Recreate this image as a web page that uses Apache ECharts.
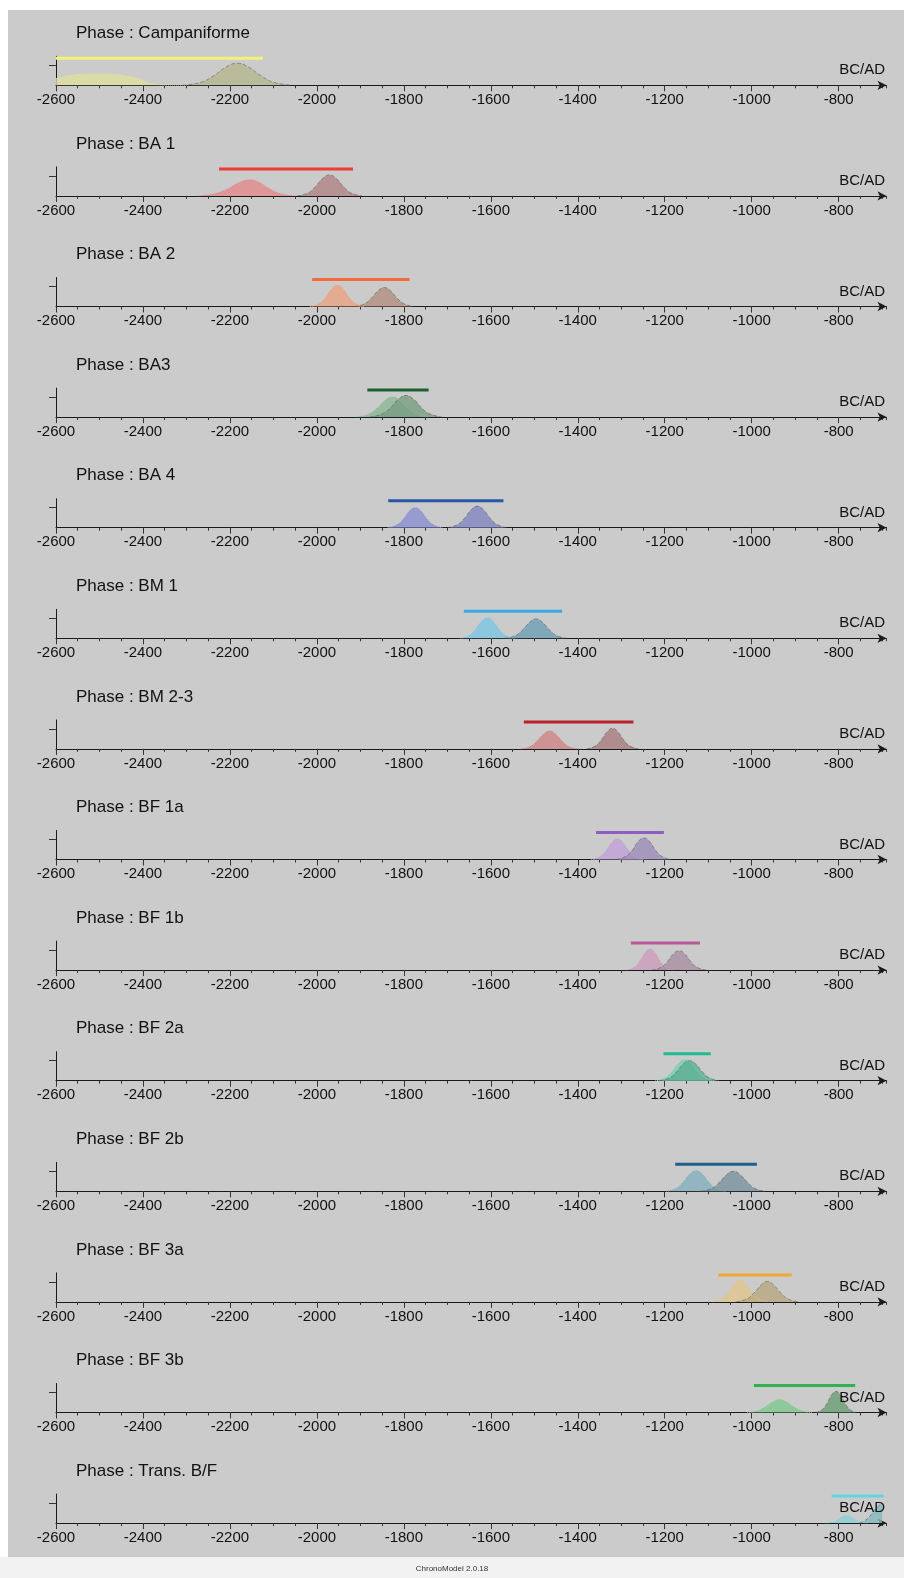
<!DOCTYPE html>
<html>
<head>
<meta charset="utf-8">
<title>ChronoModel - phases</title>
<script src="https://cdn.jsdelivr.net/npm/echarts@6/dist/echarts.min.js"></script>
<style>
  html, body { margin: 0; padding: 0; background: #ffffff; }
  #chart { width: 904px; height: 1578px; }
</style>
</head>
<body>
<div id="chart"></div>
<script>
  // phases, top to bottom
  var phaseNames = ['Campaniforme', 'BA 1', 'BA 2', 'BA3', 'BA 4', 'BM 1', 'BM 2-3',
    'BF 1a', 'BF 1b', 'BF 2a', 'BF 2b', 'BF 3a', 'BF 3b', 'Trans. B/F'];

  // phase time range (the coloured bar)
  var phaseStart = [-2600, -2225, -2011, -1884, -1836, -1662, -1524, -1358, -1278, -1203, -1176, -1077, -995, -816];
  var phaseEnd = [-2124, -1917, -1787, -1743, -1571, -1436, -1272, -1202, -1119, -1094, -988, -908, -762, -697];

  // density of the phase begin (1 = y tick)
  var beginCurves = [
    [[-2600, 0.33], [-2575, 0.47], [-2530, 0.56], [-2490, 0.57], [-2465, 0.55], [-2420, 0.4], [-2400, 0.25], [-2385, 0.1], [-2350, 0.02], [-2300, 0]],
    [[-2274, 0], [-2234, 0.11], [-2206, 0.34], [-2178, 0.67], [-2154, 0.8], [-2133, 0.67], [-2108, 0.34], [-2084, 0.11], [-2049, 0]],
    [[-2016, 0], [-1995, 0.14], [-1980, 0.45], [-1966, 0.88], [-1953, 1.05], [-1940, 0.88], [-1926, 0.45], [-1911, 0.14], [-1890, 0]],
    [[-1910, 0], [-1882, 0.135], [-1862, 0.43], [-1843, 0.835], [-1826, 1.0], [-1809, 0.835], [-1790, 0.43], [-1770, 0.135], [-1742, 0]],
    [[-1837, 0], [-1816, 0.135], [-1801, 0.43], [-1787, 0.835], [-1774, 1.0], [-1761, 0.835], [-1747, 0.43], [-1732, 0.135], [-1711, 0]],
    [[-1671, 0], [-1650, 0.14], [-1635, 0.44], [-1621, 0.85], [-1608, 1.02], [-1595, 0.85], [-1581, 0.44], [-1566, 0.14], [-1545, 0]],
    [[-1531, 0], [-1509, 0.12], [-1494, 0.39], [-1478, 0.75], [-1465, 0.9], [-1452, 0.75], [-1436, 0.39], [-1421, 0.12], [-1399, 0]],
    [[-1369, 0], [-1349, 0.14], [-1335, 0.44], [-1321, 0.86], [-1309, 1.03], [-1297, 0.86], [-1283, 0.44], [-1269, 0.14], [-1249, 0]],
    [[-1288, 0], [-1270, 0.14], [-1257, 0.45], [-1245, 0.88], [-1234, 1.05], [-1223, 0.88], [-1211, 0.45], [-1198, 0.14], [-1180, 0]],
    [[-1222, 0], [-1199, 0.14], [-1183, 0.45], [-1167, 0.88], [-1153, 1.05], [-1139, 0.88], [-1123, 0.45], [-1107, 0.14], [-1084, 0]],
    [[-1197, 0], [-1174, 0.14], [-1158, 0.44], [-1142, 0.86], [-1128, 1.03], [-1114, 0.86], [-1098, 0.44], [-1082, 0.14], [-1059, 0]],
    [[-1090, 0], [-1069, 0.15], [-1054, 0.46], [-1040, 0.9], [-1027, 1.08], [-1014, 0.9], [-1000, 0.46], [-985, 0.15], [-964, 0]],
    [[-1011, 0], [-986, 0.09], [-969, 0.28], [-951, 0.53], [-936, 0.64], [-921, 0.53], [-903, 0.28], [-886, 0.09], [-861, 0]],
    [[-830, 0], [-814, 0.05], [-803, 0.16], [-792, 0.31], [-782, 0.37], [-772, 0.31], [-761, 0.16], [-750, 0.05], [-734, 0]]
  ];

  // density of the phase end
  var endCurves = [
    [[-2309, 0], [-2267, 0.15], [-2238, 0.47], [-2208, 0.92], [-2183, 1.1], [-2158, 0.92], [-2128, 0.47], [-2099, 0.15], [-2057, 0]],
    [[-2046, 0], [-2021, 0.14], [-2004, 0.45], [-1986, 0.88], [-1971, 1.05], [-1956, 0.88], [-1938, 0.45], [-1921, 0.14], [-1896, 0]],
    [[-1914, 0], [-1891, 0.13], [-1875, 0.41], [-1859, 0.79], [-1845, 0.95], [-1831, 0.79], [-1815, 0.41], [-1799, 0.13], [-1776, 0]],
    [[-1879, 0], [-1851, 0.15], [-1831, 0.46], [-1812, 0.9], [-1795, 1.08], [-1778, 0.9], [-1759, 0.46], [-1739, 0.15], [-1711, 0]],
    [[-1700, 0], [-1677, 0.15], [-1661, 0.46], [-1645, 0.9], [-1631, 1.08], [-1617, 0.9], [-1601, 0.46], [-1585, 0.15], [-1562, 0]],
    [[-1568, 0], [-1544, 0.13], [-1527, 0.42], [-1510, 0.81], [-1496, 0.97], [-1482, 0.81], [-1465, 0.42], [-1448, 0.13], [-1424, 0]],
    [[-1380, 0], [-1360, 0.14], [-1346, 0.44], [-1332, 0.86], [-1320, 1.03], [-1308, 0.86], [-1294, 0.44], [-1280, 0.14], [-1260, 0]],
    [[-1311, 0], [-1290, 0.15], [-1275, 0.46], [-1261, 0.9], [-1248, 1.08], [-1235, 0.9], [-1221, 0.46], [-1206, 0.15], [-1185, 0]],
    [[-1230, 0], [-1209, 0.13], [-1194, 0.42], [-1180, 0.81], [-1167, 0.97], [-1154, 0.81], [-1140, 0.42], [-1125, 0.13], [-1104, 0]],
    [[-1212, 0], [-1189, 0.135], [-1173, 0.43], [-1157, 0.835], [-1143, 1.0], [-1129, 0.835], [-1113, 0.43], [-1097, 0.135], [-1074, 0]],
    [[-1117, 0], [-1092, 0.135], [-1075, 0.43], [-1057, 0.835], [-1042, 1.0], [-1027, 0.835], [-1009, 0.43], [-992, 0.135], [-967, 0]],
    [[-1036, 0], [-1012, 0.14], [-995, 0.44], [-978, 0.85], [-964, 1.02], [-950, 0.85], [-933, 0.44], [-916, 0.14], [-892, 0]],
    [[-854, 0], [-838, 0.14], [-827, 0.45], [-816, 0.88], [-806, 1.05], [-796, 0.88], [-785, 0.45], [-774, 0.14], [-758, 0]],
    [[-752, 0], [-740, 0.12], [-728, 0.35], [-716, 0.68], [-706, 0.9], [-700, 1.0]]
  ];

  var tickLabels = [-2600, -2400, -2200, -2000, -1800, -1600, -1400, -1200, -1000, -800];

  // colours
  var barColors = ['#f2f27a', '#ee3b3b', '#f26b3e', '#1b6030', '#2c55a8', '#3aaae2', '#b82228',
    '#8e5ec4', '#b85a98', '#22b890', '#1f5f8c', '#f2a634', '#2fb24f', '#66d2e0'];
  var beginColors = ['#dede9e', '#e28888', '#eaa282', '#8cb896', '#8a8ed0', '#7cc6e4', '#cf8585',
    '#c0a0d8', '#cc9cbc', '#76d0b0', '#84aebe', '#e2c48e', '#7fc88e', '#88d0d6'];
  var endColors = ['#b5b68e', '#b08484', '#b38f80', '#789c80', '#8086c0', '#6c9fb4', '#a87d80',
    '#9e8cb8', '#a88ea0', '#5fae92', '#78929e', '#b8a880', '#6a9e74', '#84b8bc'];

  var FONT = 'Liberation Sans';
  var X_MIN = -2600, X_MAX = -690;
  var AXIS_Y0 = 85.3, STEP = 110.6, PLOT_H = 29;
  var BAR_Y = 1.35;

  var chart = echarts.init(document.getElementById('chart'));
  var grids = [], xAxes = [], yAxes = [], series = [], titles = [];

  phaseNames.forEach(function (name, i) {
    var axisY = AXIS_Y0 + i * STEP;
    grids.push({ left: 56, width: 830.5, top: axisY - PLOT_H, height: PLOT_H });

    // axis line with the small ticks every 50 years
    xAxes.push({
      gridIndex: i, type: 'value', min: X_MIN, max: X_MAX, interval: 50, position: 'bottom',
      axisLine: { lineStyle: { color: '#1a1a1a', width: 1 }, symbol: ['none', 'arrow'], symbolSize: [7, 9] },
      axisTick: { length: 3, lineStyle: { color: '#333' } },
      axisLabel: { show: false },
      splitLine: { show: false }
    });
    // labelled ticks
    xAxes.push({
      gridIndex: i, type: 'value', min: X_MIN, max: X_MAX, position: 'bottom',
      axisLine: { show: false },
      axisTick: { length: 6, customValues: tickLabels, lineStyle: { color: '#333' } },
      axisLabel: {
        customValues: tickLabels, margin: 7, fontSize: 15, color: '#111', fontFamily: FONT,
        formatter: function (v) { return String(v); }
      },
      splitLine: { show: false }
    });
    yAxes.push({
      gridIndex: i, type: 'value', min: 0, max: 1.45,
      axisLine: { show: true, lineStyle: { color: '#1a1a1a' } },
      axisTick: { show: true, customValues: [1], length: 7, lineStyle: { color: '#333' } },
      axisLabel: { show: false },
      splitLine: { show: false }
    });

    series.push({
      type: 'line', xAxisIndex: 2 * i, yAxisIndex: i, data: beginCurves[i],
      smooth: 0.5, symbol: 'none', clip: true, silent: true,
      lineStyle: { width: 1, type: 'dotted', color: beginColors[i] },
      areaStyle: { color: beginColors[i], opacity: 0.8 }
    });
    series.push({
      type: 'line', xAxisIndex: 2 * i, yAxisIndex: i, data: endCurves[i],
      smooth: 0.5, symbol: 'none', clip: true, silent: true,
      lineStyle: { width: 1, type: 'dashed', color: 'rgba(70,70,70,0.45)' },
      areaStyle: { color: endColors[i], opacity: 0.8 }
    });
    series.push({
      type: 'line', xAxisIndex: 2 * i, yAxisIndex: i, z: 3,
      data: [[phaseStart[i], BAR_Y], [phaseEnd[i], BAR_Y]],
      symbol: 'none', silent: true,
      lineStyle: { width: 3, color: barColors[i] }
    });

    titles.push({
      text: 'Phase : ' + name, left: 76, top: axisY - 60.5, padding: 0,
      textStyle: { fontFamily: FONT, fontSize: 17, fontWeight: 'normal', color: '#111' }
    });
    titles.push({
      text: 'BC/AD', right: 19, top: axisY - 22.5, padding: 0,
      textStyle: { fontFamily: FONT, fontSize: 15, fontWeight: 'normal', color: '#111' }
    });
  });

  var option = {
    animation: false,
    backgroundColor: '#cacbca',
    title: titles,
    grid: grids,
    xAxis: xAxes,
    yAxis: yAxes,
    series: series,
    graphic: [
      { type: 'rect', left: 0, top: 0, shape: { width: 904, height: 10 }, style: { fill: '#ffffff' }, silent: true },
      { type: 'rect', left: 0, top: 0, shape: { width: 8, height: 1578 }, style: { fill: '#ffffff' }, silent: true },
      { type: 'rect', left: 0, top: 1557, shape: { width: 904, height: 21 }, style: { fill: '#f2f2f2' }, silent: true },
      {
        type: 'text', left: 'center', top: 1565, silent: true,
        style: { text: 'ChronoModel 2.0.18', font: '8px "Liberation Sans"', fill: '#333' }
      }
    ]
  };
  chart.setOption(option);
</script>
</body>
</html>
